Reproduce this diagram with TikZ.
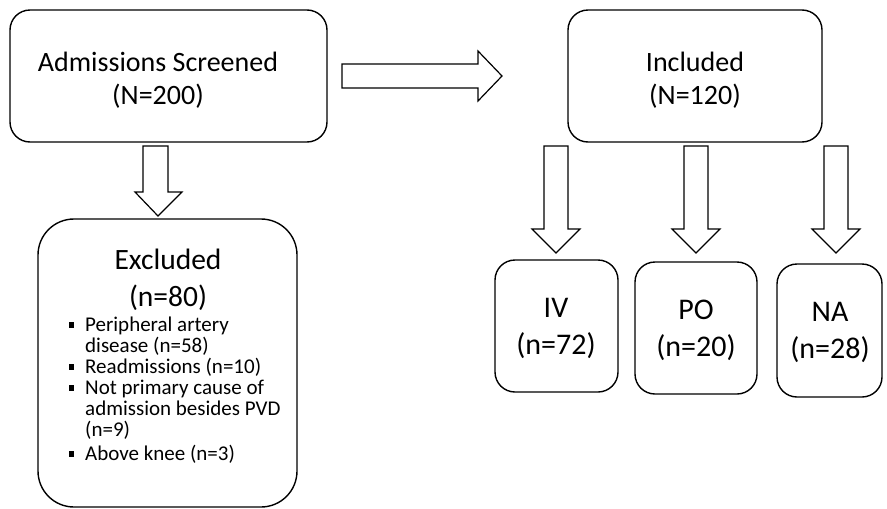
\documentclass[tikz,border=0pt]{standalone}
\usepackage{fontspec}
\setmainfont{Carlito}
\begin{document}
\begin{tikzpicture}[x=1pt,y=-1pt,
  box/.style={draw=black,line width=1.4pt,rounded corners=20pt,fill=white},
  barrow/.style={draw=black,line width=1.2pt,fill=white,line join=miter},
  big/.style={font=\fontsize{28}{33}\selectfont,inner sep=0pt},
  mid/.style={font=\fontsize{29.5}{35}\selectfont,inner sep=0pt},
  sub/.style={font=\fontsize{30}{36}\selectfont,inner sep=0pt},
  item/.style={font=\fontsize{21}{21}\selectfont,inner sep=0pt,anchor=base west}]
\useasboundingbox[fill=white] (0,0) rectangle (887,509);
% boxes
\draw[box] (10,10) rectangle (327,142);
\node[big] (adm1) at (158,62) {Admissions Screened};
\node[big] (adm2) at (158,96) {(N=200)};
\draw[box,rounded corners=36pt] (38,219) rectangle (297,507);
\node[mid] (exc1) at (168,259) {Excluded};
\node[mid] (exc2) at (168,298) {(n=80)};
\foreach \y/\t/\n in {331/{Peripheral artery}/l1,352/{disease (n=58)}/l2,373/{Readmissions (n=10)}/l3,394/{Not primary cause of}/l4,415/{admission besides PVD}/l5,436/{(n=9)}/l6,460/{Above knee (n=3)}/l7}{
  \node[item] (\n) at (85,\y) {\t};
}
\foreach \y in {331,373,394,460}{
  \fill (68.5,\y-9) rectangle (74,\y-3.5);
}
\draw[box] (568,10) rectangle (822,142);
\node[big] (inc1) at (695,62) {Included};
\node[big] (inc2) at (695,96) {(N=120)};
\draw[box] (495,260) rectangle (618,392);
\node[sub] (iv1) at (556,308) {IV};
\node[sub] (iv2) at (556,346) {(n=72)};
\draw[box] (635,262) rectangle (757,394);
\node[sub] (po1) at (696,310) {PO};
\node[sub] (po2) at (696,348) {(n=20)};
\draw[box] (777,264) rectangle (882,397);
\node[sub] (na1) at (830,312) {NA};
\node[sub] (na2) at (830,350) {(n=28)};
% block arrows
\draw[barrow] (342,64) -- (478,64) -- (478,51) -- (502,76) -- (478,101) -- (478,88) -- (342,88) -- cycle;
\draw[barrow] (143,146) -- (168,146) -- (168,192) -- (182,192) -- (158,216) -- (135,192) -- (143,192) -- cycle;
\foreach \c in {556,696,836}{
  \draw[barrow] (\c-12,146) -- (\c+12,146) -- (\c+12,229) -- (\c+24,229) -- (\c,253) -- (\c-24,229) -- (\c-12,229) -- cycle;
}
\end{tikzpicture}
\end{document}
